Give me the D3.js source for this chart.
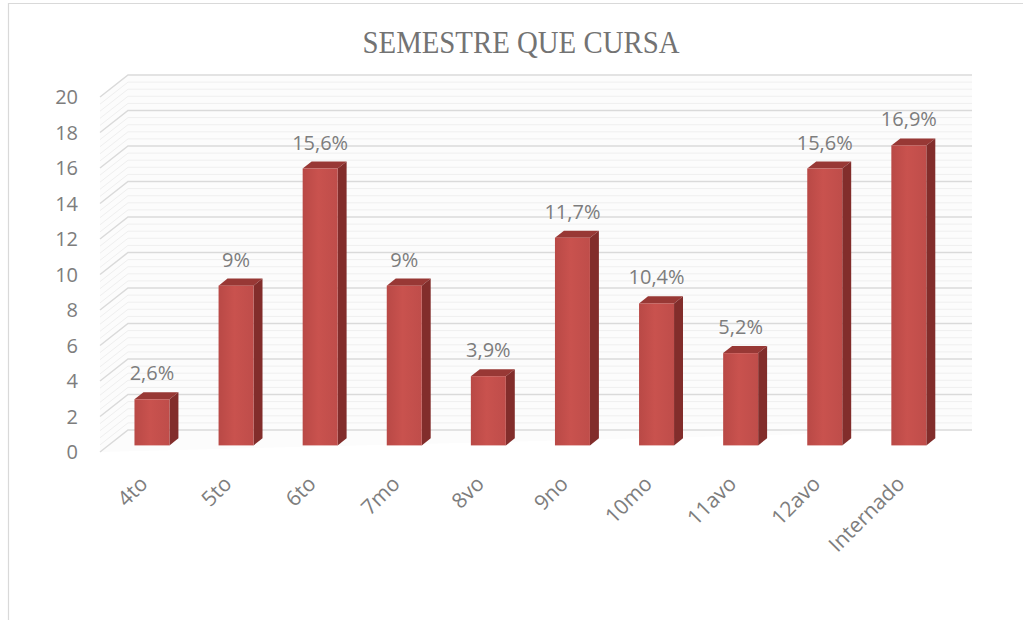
<!DOCTYPE html>
<html>
<head>
<meta charset="utf-8">
<script src="https://cdn.jsdelivr.net/npm/d3@7"></script>
<style>
  html, body { margin: 0; padding: 0; background: #fff; }
  svg { display: block; }
</style>
</head>
<body>
<div id="chart"></div>
<script>
// semesters and what each bar shows
const categories = ["4to", "5to", "6to", "7mo", "8vo", "9no", "10mo", "11avo", "12avo", "Internado"];
const values = [2.6, 9, 15.6, 9, 3.9, 11.7, 8, 5.2, 15.6, 16.9];
const valueLabels = ["2,6%", "9%", "15,6%", "9%", "3,9%", "11,7%", "10,4%", "5,2%", "15,6%", "16,9%"];
const yTicks = [0, 2, 4, 6, 8, 10, 12, 14, 16, 18, 20];

const width = 1023, height = 620;
const textColor = "#7d7d7d";
const font = "'Open Sans', 'Noto Sans', sans-serif";

// 3d depth: offset of the back wall from the front plane
const depthX = 28, depthY = -22;
const barFront = 0.3, barBack = 0.62;
const off = d => [depthX * d, depthY * d];

const svg = d3.select("#chart").append("svg")
  .attr("width", width)
  .attr("height", height);

const defs = svg.append("defs");
const grad = defs.append("linearGradient").attr("id", "barFace")
  .attr("x1", 0).attr("x2", 1).attr("y1", 0).attr("y2", 0);
grad.append("stop").attr("offset", "0%").attr("stop-color", "#b94946");
grad.append("stop").attr("offset", "45%").attr("stop-color", "#c9524e");
grad.append("stop").attr("offset", "100%").attr("stop-color", "#bf4d4a");

// chart frame
svg.append("path")
  .attr("d", "M8.5,630 L8.5,3.5 L1030,3.5")
  .attr("fill", "none")
  .attr("stroke", "#d9d9d9")
  .attr("stroke-width", 1.2);

const x = d3.scaleBand()
  .domain(categories)
  .range([100, 944])
  .paddingInner(0.584)
  .paddingOuter(0.31);

const y = d3.scaleLinear()
  .domain([0, 20])
  .range([452, 97]);

const [bx, by] = off(1);
const wallLeft = x.range()[0], wallRight = x.range()[1];

// faint wall fill
svg.append("path")
  .attr("d", `M${wallLeft},${y(0)} L${wallLeft},${y(20)} L${wallLeft + bx},${y(20) + by} L${wallRight + bx},${y(20) + by} L${wallRight + bx},${y(0) + by} Z`)
  .attr("fill", "#fcfcfc");

// minor gridlines
const minor = d3.range(0, 20, 0.4).filter(v => Math.abs(v / 2 - Math.round(v / 2)) > 0.01);
const grid = svg.append("g");
grid.selectAll("path.minor")
  .data(minor)
  .join("path")
  .attr("class", "minor")
  .attr("d", v => `M${wallLeft},${y(v)} L${wallLeft + bx},${y(v) + by} L${wallRight + bx},${y(v) + by}`)
  .attr("fill", "none")
  .attr("stroke", "#efefef")
  .attr("stroke-width", 1);

// major gridlines
grid.selectAll("path.major")
  .data(yTicks)
  .join("path")
  .attr("class", "major")
  .attr("d", v => `M${wallLeft},${y(v)} L${wallLeft + bx},${y(v) + by} L${wallRight + bx},${y(v) + by}`)
  .attr("fill", "none")
  .attr("stroke", "#dadada")
  .attr("stroke-width", 1.5);

// y axis labels
svg.append("g").selectAll("text")
  .data(yTicks)
  .join("text")
  .attr("x", 78)
  .attr("y", v => y(v))
  .attr("dy", "0.35em")
  .attr("text-anchor", "end")
  .attr("font-family", font)
  .attr("font-size", 20)
  .attr("fill", textColor)
  .text(d => d);

// bars
const [fx, fy] = off(barFront);
const [kx, ky] = off(barBack);
const bw = x.bandwidth();
const data = categories.map((c, i) => ({ c, v: values[i], label: valueLabels[i] }));

const bars = svg.append("g").selectAll("g")
  .data(data)
  .join("g");

// top face
bars.append("path")
  .attr("d", d => {
    const x0 = x(d.c) + fx, yt = y(d.v) + fy;
    return `M${x0},${yt} L${x0 + bw},${yt} L${x0 + bw + kx - fx},${yt + ky - fy} L${x0 + kx - fx},${yt + ky - fy} Z`;
  })
  .attr("fill", "#983835");

// side face
bars.append("path")
  .attr("d", d => {
    const x1 = x(d.c) + fx + bw, yt = y(d.v) + fy, yb = y(0) + fy;
    return `M${x1},${yt} L${x1 + kx - fx},${yt + ky - fy} L${x1 + kx - fx},${yb + ky - fy} L${x1},${yb} Z`;
  })
  .attr("fill", "#822d2b");

// front face
bars.append("rect")
  .attr("x", d => x(d.c) + fx)
  .attr("y", d => y(d.v) + fy)
  .attr("width", bw)
  .attr("height", d => y(0) - y(d.v))
  .attr("fill", "url(#barFace)");

// value labels
bars.append("text")
  .attr("x", d => x(d.c) + fx + bw / 2)
  .attr("y", d => y(d.v) + fy - 19)
  .attr("text-anchor", "middle")
  .attr("font-family", font)
  .attr("font-size", 20)
  .attr("fill", textColor)
  .text(d => d.label);

// category labels, rotated
svg.append("g").selectAll("text")
  .data(categories)
  .join("text")
  .attr("transform", c => `translate(${x(c) + fx + bw / 2 - 3},485) rotate(-45)`)
  .attr("text-anchor", "end")
  .attr("font-family", font)
  .attr("font-size", 21)
  .attr("fill", textColor)
  .text(c => c);

// title
svg.append("text")
  .attr("x", 521)
  .attr("y", 53)
  .attr("text-anchor", "middle")
  .attr("font-family", "'Liberation Serif', 'DejaVu Serif', serif")
  .attr("font-size", 31)
  .attr("textLength", 317)
  .attr("lengthAdjust", "spacingAndGlyphs")
  .attr("fill", "#737373")
  .text("SEMESTRE QUE CURSA");
</script>
</body>
</html>
